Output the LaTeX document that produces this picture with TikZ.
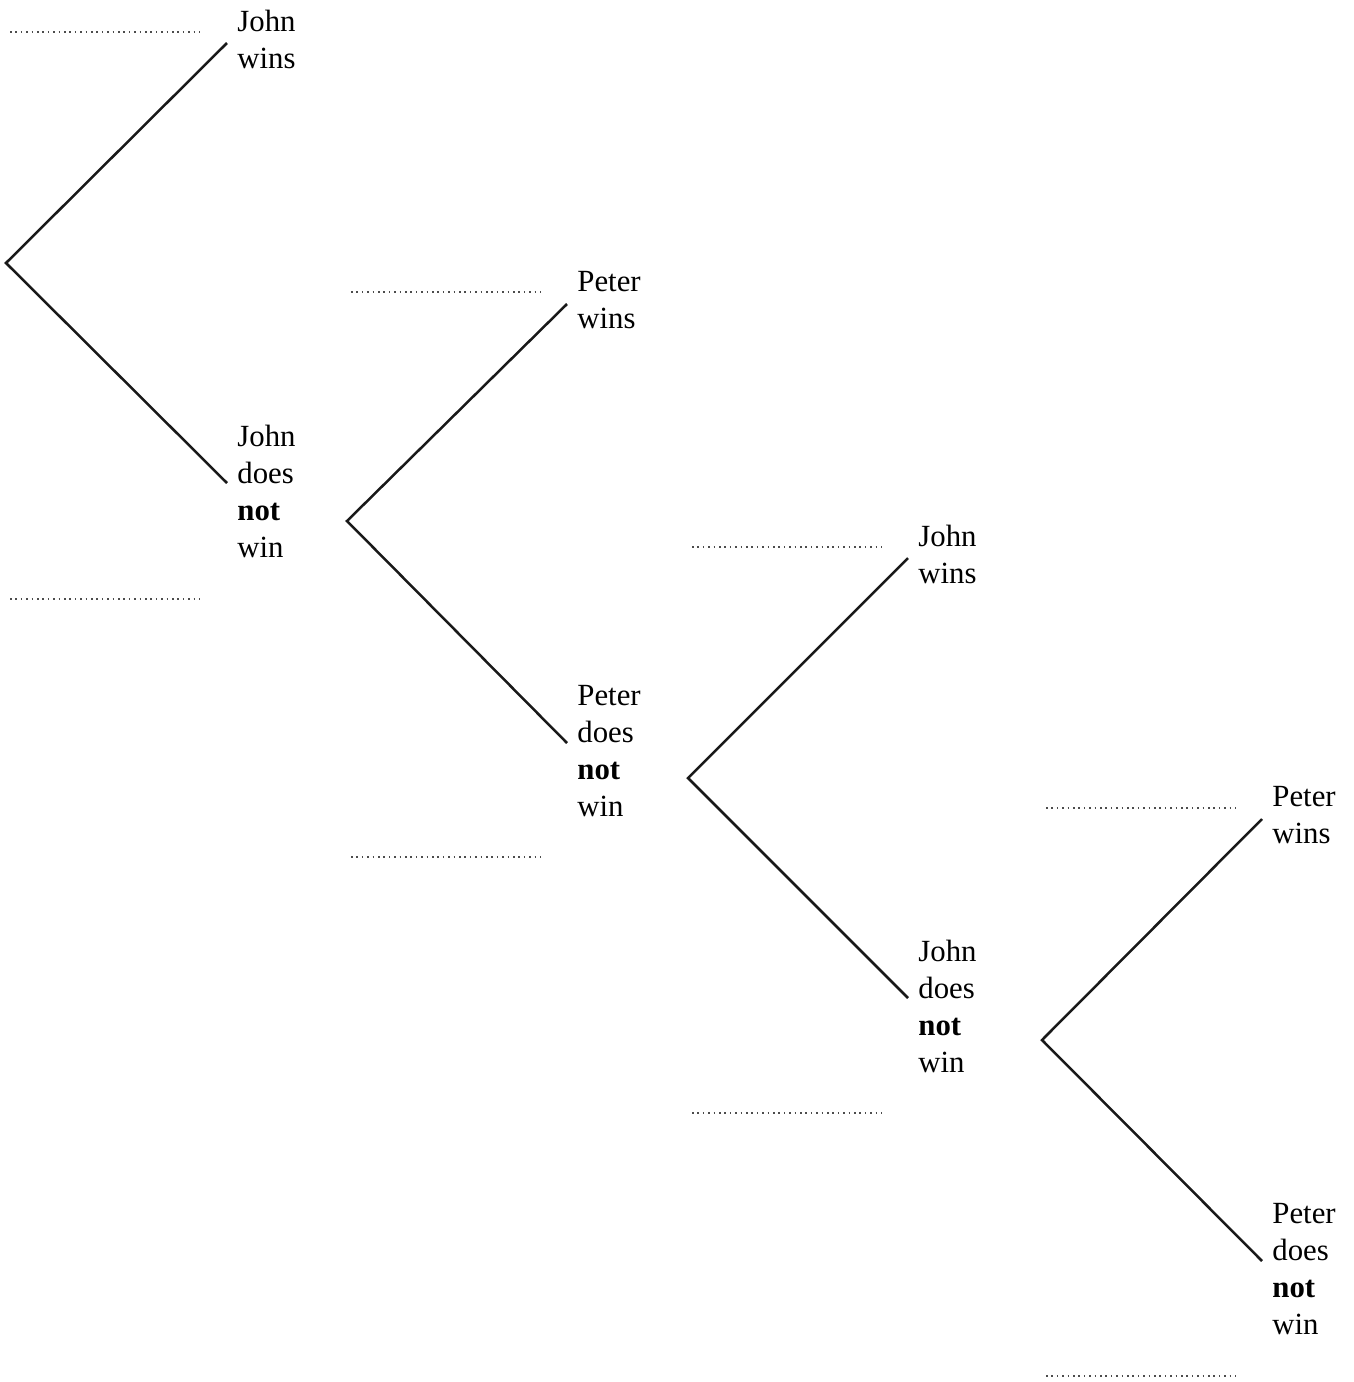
\documentclass[tikz,border=0pt]{standalone}
\usepackage{fontspec}
\setmainfont{Liberation Serif}
\begin{document}
\begin{tikzpicture}[x=0.5pt,y=-0.5pt,
  outcome/.style={anchor=north west,align=left,inner xsep=5pt,inner ysep=0pt,
    font=\fontsize{15.4}{18.5}\selectfont},
  branch/.style={line width=1.25pt,black!90},
  blank/.style={line width=0.8pt,black!70,dash pattern=on 0.8pt off 1.9pt}]
  \useasboundingbox (0,0) rectangle (1354,1382);
  % roots of the four stages
  \coordinate (r1) at (6,263);
  \coordinate (r2) at (347,521);
  \coordinate (r3) at (688,778);
  \coordinate (r4) at (1042,1040);
  % outcomes
  \node[outcome] (w1) at (227,10) {John\\wins};
  \node[outcome] (n1) at (227,425) {John\\does\\\textbf{not}\\win};
  \node[outcome] (w2) at (567,271) {Peter\\wins};
  \node[outcome] (n2) at (567,685) {Peter\\does\\\textbf{not}\\win};
  \node[outcome] (w3) at (908,525) {John\\wins};
  \node[outcome] (n3) at (908,940) {John\\does\\\textbf{not}\\win};
  \node[outcome] (w4) at (1262,786) {Peter\\wins};
  \node[outcome] (n4) at (1262,1203) {Peter\\does\\\textbf{not}\\win};
  % branches
  \foreach \i in {1,...,4}{
    \draw[branch] ([yshift=-16.5pt]w\i.north west) -- (r\i)
      -- ([yshift=-29pt]n\i.north west);
  }
  % answer blanks
  \foreach \x/\y in {10/32,10/599,351/292,351/857,692/547,692/1113,1046/808,1046/1376}
    \draw[blank] (\x,\y) -- ++(190,0);
\end{tikzpicture}
\end{document}
